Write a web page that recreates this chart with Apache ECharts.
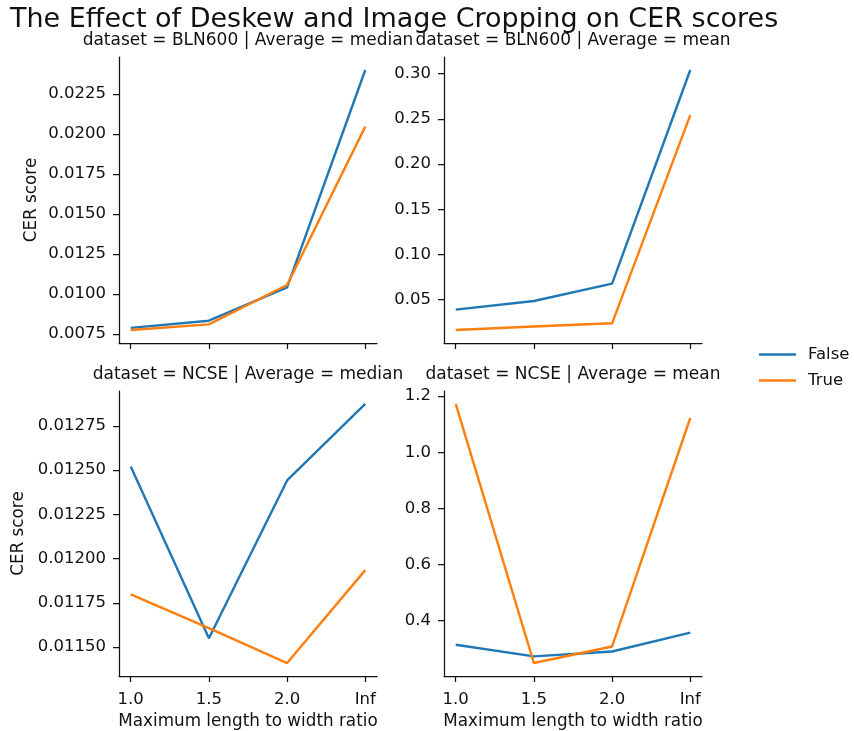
<!DOCTYPE html>
<html><head><meta charset="utf-8">
<script src="https://cdn.jsdelivr.net/npm/echarts@6/dist/echarts.min.js"></script>
<style>html,body{margin:0;padding:0;background:#fff}#c{width:854px;height:731px}</style>
</head><body><div id="c"></div>
<script>
const mainTitle = 'The Effect of Deskew and Image Cropping on CER scores';
const xLabels = ['1.0', '1.5', '2.0', 'Inf'];
const xAxisName = 'Maximum length to width ratio';
const yAxisName = 'CER score';
const seriesNames = ['False', 'True'];
const panelTitles = [
  'dataset = BLN600 | Average = median',
  'dataset = BLN600 | Average = mean',
  'dataset = NCSE | Average = median',
  'dataset = NCSE | Average = mean'
];
const bln600MedianFalse = [0.00788, 0.00833, 0.01041, 0.02400];
const bln600MedianTrue  = [0.00775, 0.00810, 0.01056, 0.02046];
const bln600MeanFalse   = [0.0390, 0.0485, 0.0677, 0.3040];
const bln600MeanTrue    = [0.0164, 0.0202, 0.0238, 0.2540];
const ncseMedianFalse   = [0.012521, 0.011550, 0.012442, 0.012874];
const ncseMedianTrue    = [0.011798, 0.011607, 0.011410, 0.011935];
const ncseMeanFalse     = [0.314, 0.2726, 0.290, 0.3575];
const ncseMeanTrue      = [1.172, 0.249, 0.308, 1.122];
const yTickLabels1 = ['0.0075', '0.0100', '0.0125', '0.0150', '0.0175', '0.0200', '0.0225'];
const yTickLabels2 = ['0.05', '0.10', '0.15', '0.20', '0.25', '0.30'];
const yTickLabels3 = ['0.01150', '0.01175', '0.01200', '0.01225', '0.01250', '0.01275'];
const yTickLabels4 = ['0.4', '0.6', '0.8', '1.0', '1.2'];

const panels = [
  { f: bln600MedianFalse, t: bln600MedianTrue, ticks: yTickLabels1 },
  { f: bln600MeanFalse, t: bln600MeanTrue, ticks: yTickLabels2 },
  { f: ncseMedianFalse, t: ncseMedianTrue, ticks: yTickLabels3 },
  { f: ncseMeanFalse, t: ncseMeanTrue, ticks: yTickLabels4 }
];
const grids = [
  { left: 119, top: 57, width: 258, height: 286 },
  { left: 444, top: 57, width: 258, height: 286 },
  { left: 119, top: 391, width: 258, height: 285 },
  { left: 444, top: 391, width: 258, height: 285 }
];
const ink = '#111111';
const font = 'DejaVu Sans';
const colors = ['#1f77b4', '#ff7f0e'];
const lineSt = { color: ink, width: 1.25 };
const xIdx = xLabels.map((_, i) => i);

function range(a, b) {
  const all = a.concat(b);
  const lo = Math.min(...all), hi = Math.max(...all), r = hi - lo;
  return [lo - 0.05 * r, hi + 0.05 * r];
}

const option = {
  animation: false,
  backgroundColor: '#fff',
  textStyle: { fontFamily: font },
  title: [
    { text: mainTitle, left: 10, top: 20, padding: 0, textAlign: 'left', textVerticalAlign: 'middle',
      textStyle: { fontFamily: font, fontSize: 27, fontWeight: 'normal', color: ink } }
  ].concat(panelTitles.map((t, i) => ({
    text: t, left: grids[i].left + grids[i].width / 2, top: i < 2 ? 41 : 375, padding: 0,
    textAlign: 'center', textVerticalAlign: 'middle',
    textStyle: { fontFamily: font, fontSize: 17, fontWeight: 'normal', color: ink }
  }))),
  legend: {
    data: seriesNames, orient: 'vertical', left: 759, top: 346, padding: 0,
    icon: 'path://M0,0 L37,0 L37,2.4 L0,2.4 Z',
    itemWidth: 37, itemHeight: 2.4, itemGap: 9,
    textStyle: { fontFamily: font, fontSize: 16.5, lineHeight: 16, color: ink, padding: [0, 0, 0, 7] }
  },
  grid: grids,
  xAxis: grids.map((g, i) => ({
    type: 'value', gridIndex: i, min: -0.15, max: 3.15,
    splitLine: { show: false },
    axisLine: { show: true, onZero: false, lineStyle: lineSt },
    axisTick: { show: true, customValues: xIdx, length: 6, lineStyle: lineSt },
    axisLabel: { show: i >= 2, customValues: xIdx, formatter: v => xLabels[Math.round(v)],
      fontFamily: font, fontSize: 16.5, color: ink, margin: 15 },
    name: i >= 2 ? xAxisName : '', nameLocation: 'middle', nameGap: 37,
    nameTextStyle: { fontFamily: font, fontSize: 16.8, color: ink }
  })),
  yAxis: panels.map((p, i) => {
    const [mn, mx] = range(p.f, p.t);
    const vals = p.ticks.map(parseFloat);
    return {
      type: 'value', gridIndex: i, min: mn, max: mx,
      splitLine: { show: false },
      axisLine: { show: true, onZero: false, lineStyle: lineSt },
      axisTick: { show: true, customValues: vals, length: 6, lineStyle: lineSt },
      axisLabel: { customValues: vals, formatter: v => {
          let best = 0; vals.forEach((x, k) => { if (Math.abs(x - v) < Math.abs(vals[best] - v)) best = k; });
          return p.ticks[best];
        }, fontFamily: font, fontSize: 16.5, color: ink, margin: 13 },
      name: (i % 2 === 0) ? yAxisName : '', nameLocation: 'middle',
      nameGap: i === 0 ? 79 : 92,
      nameTextStyle: { fontFamily: font, fontSize: 16.8, color: ink }
    };
  }),
  series: []
};
panels.forEach((p, i) => {
  [p.f, p.t].forEach((arr, k) => {
    option.series.push({
      type: 'line', name: seriesNames[k], xAxisIndex: i, yAxisIndex: i,
      symbol: 'none', color: colors[k],
      lineStyle: { width: 2.4, color: colors[k] },
      data: xIdx.map(j => [j, arr[j]])
    });
  });
});
const chart = echarts.init(document.getElementById('c'), null, { renderer: 'canvas' });
chart.setOption(option);
</script>
</body></html>
